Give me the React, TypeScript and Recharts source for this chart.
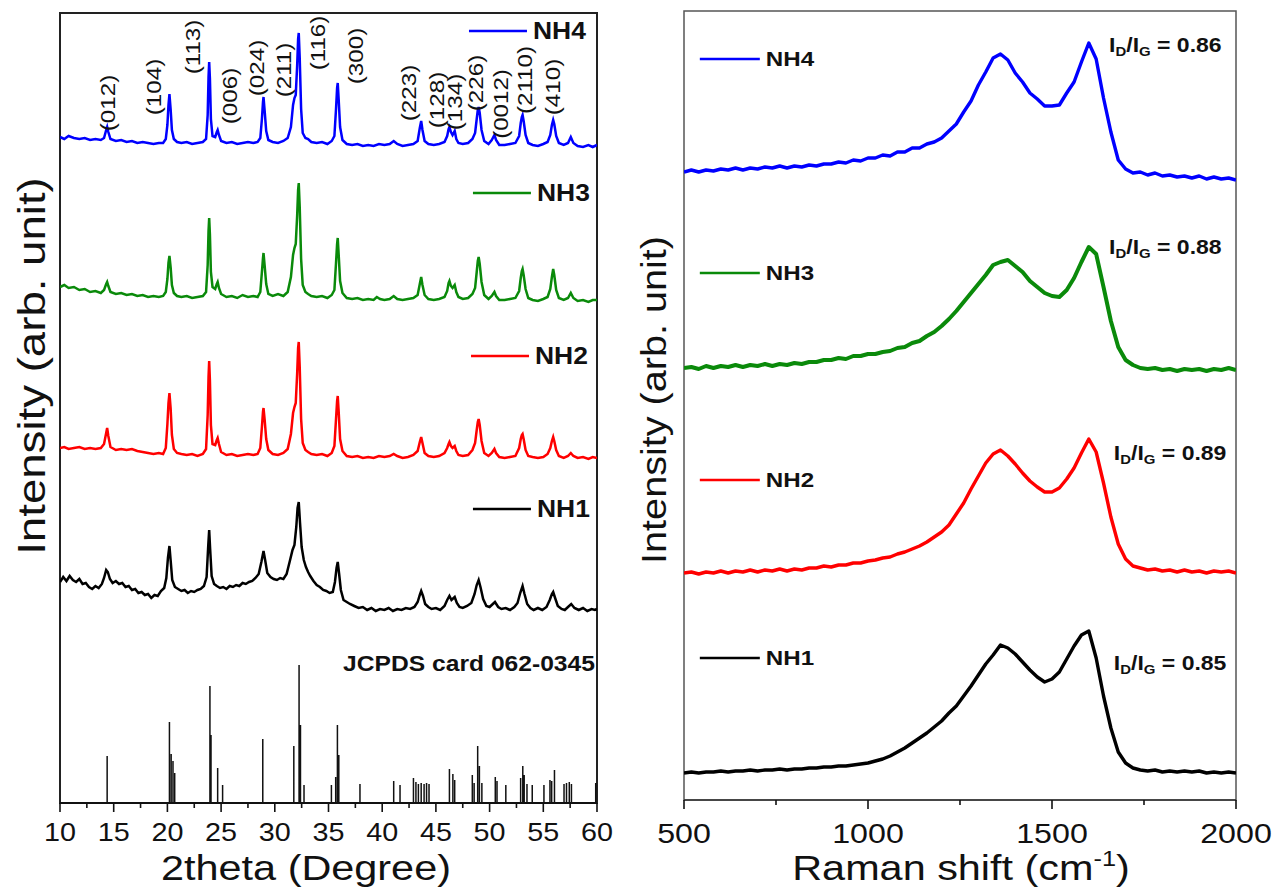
import React from 'react';
import { LineChart, Line, XAxis, YAxis, ReferenceArea, ReferenceDot } from 'recharts';

const FONT = '"Liberation Sans", Arial, Helvetica, sans-serif';

// ---------- XRD (left panel), intensity in stacked plot units ----------
const xrdTicks = [10, 12.5, 15, 17.5, 20, 22.5, 25, 27.5, 30, 32.5, 35, 37.5, 40, 42.5, 45, 47.5, 50, 52.5, 55, 57.5, 60];

const xrdNH4 = [
  [10, 666], [10.4, 664], [10.8, 667], [11.3, 665], [11.8, 664], [12.3, 665], [12.8, 663], [13.3, 664], [13.8, 663],
  [14.1, 665], [14.3, 673], [14.39, 676], [14.5, 671], [14.7, 664],
  [15.2, 662], [15.7, 663], [16.2, 661], [16.7, 662], [17.2, 660], [17.7, 661], [18.2, 660], [18.7, 659], [19.2, 660], [19.6, 660],
  [19.85, 664], [20.0, 678], [20.1, 698], [20.19, 709], [20.3, 694], [20.42, 673], [20.6, 664], [20.9, 661],
  [21.3, 660], [21.8, 661], [22.3, 659], [22.8, 660], [23.3, 661],
  [23.6, 664], [23.75, 688], [23.83, 726], [23.89, 741], [23.96, 724], [24.05, 684], [24.2, 667],
  [24.45, 666], [24.6, 671], [24.68, 673], [24.8, 668], [25.0, 662],
  [25.5, 660], [26.0, 661], [26.5, 659], [27.0, 660], [27.5, 661], [28.0, 660], [28.4, 661],
  [28.65, 665], [28.8, 684], [28.9, 701], [28.95, 706], [29.05, 693], [29.2, 672], [29.4, 663],
  [29.8, 661], [30.3, 660], [30.8, 662], [31.2, 665],
  [31.5, 676], [31.7, 698], [31.83, 705], [31.95, 708], [32.08, 737], [32.17, 764], [32.23, 770], [32.32, 745], [32.45, 694], [32.6, 670], [32.85, 665], [33.1, 664], [33.4, 661],
  [33.9, 660], [34.4, 661], [34.9, 659], [35.3, 662],
  [35.55, 667], [35.7, 694], [35.8, 715], [35.86, 720], [35.95, 703], [36.08, 676], [36.3, 663],
  [36.7, 659], [37.2, 658], [37.7, 659], [38.2, 657], [38.7, 658], [39.2, 657], [39.7, 659], [40.2, 658], [40.7, 659], [41.07, 662], [41.4, 659], [41.9, 657], [42.4, 658], [42.9, 659],
  [43.3, 662], [43.5, 675], [43.63, 682], [43.75, 673], [43.95, 662],
  [44.3, 659], [44.8, 658], [45.3, 659], [45.8, 661],
  [46.05, 667], [46.18, 674], [46.26, 676], [46.4, 671], [46.55, 668], [46.75, 672], [46.9, 664], [47.1, 660],
  [47.5, 659], [48.0, 660], [48.4, 664],
  [48.65, 670], [48.8, 684], [48.9, 693], [48.98, 696], [49.08, 690], [49.25, 673], [49.5, 662],
  [49.9, 659], [50.2, 663], [50.45, 668], [50.6, 663], [50.9, 658], [51.4, 658], [51.9, 659], [52.4, 660],
  [52.75, 667], [52.9, 680], [53.0, 686], [53.07, 688], [53.17, 682], [53.35, 668], [53.6, 660],
  [54.0, 658], [54.5, 657], [55.0, 659], [55.4, 661],
  [55.65, 668], [55.8, 678], [55.92, 683], [56.02, 679], [56.2, 667], [56.45, 660],
  [56.9, 658], [57.3, 660], [57.56, 666], [57.8, 660], [58.2, 657], [58.7, 656], [59.2, 658], [59.6, 656], [60, 658],
];

const xrdNH3 = [
  [10, 516], [10.4, 518], [10.8, 515], [11.3, 516], [11.8, 513], [12.3, 514], [12.8, 511], [13.3, 512], [13.8, 510],
  [14.1, 513], [14.3, 519], [14.39, 521], [14.5, 517], [14.7, 511],
  [15.2, 509], [15.7, 510], [16.2, 508], [16.7, 509], [17.2, 507], [17.7, 508], [18.2, 506], [18.7, 507], [19.2, 506], [19.6, 507],
  [19.85, 511], [20.0, 524], [20.1, 540], [20.19, 547], [20.3, 536], [20.42, 518], [20.6, 510], [20.9, 507],
  [21.3, 506], [21.8, 507], [22.3, 505], [22.8, 506], [23.3, 507],
  [23.6, 511], [23.75, 538], [23.83, 572], [23.89, 585], [23.96, 568], [24.05, 531], [24.2, 516],
  [24.45, 514], [24.6, 519], [24.68, 521], [24.8, 515], [25.0, 509],
  [25.5, 506], [26.0, 507], [26.5, 505], [27.0, 508], [27.5, 506], [28.0, 507], [28.4, 506],
  [28.65, 511], [28.8, 531], [28.9, 545], [28.95, 550], [29.05, 538], [29.2, 519], [29.4, 509],
  [29.8, 507], [30.3, 509], [30.8, 507], [31.2, 511],
  [31.5, 526], [31.7, 548], [31.83, 555], [31.95, 559], [32.08, 587], [32.17, 613], [32.23, 620], [32.32, 596], [32.45, 544], [32.6, 518], [32.85, 511], [33.1, 509], [33.4, 507],
  [33.9, 506], [34.4, 507], [34.9, 505], [35.3, 508],
  [35.55, 513], [35.7, 540], [35.8, 559], [35.86, 565], [35.95, 548], [36.08, 522], [36.3, 510],
  [36.7, 505], [37.2, 504], [37.7, 505], [38.2, 503], [38.7, 504], [39.2, 503], [39.5, 506], [39.8, 504], [40.2, 503], [40.7, 504], [41.07, 507], [41.4, 504], [41.9, 503], [42.4, 504], [42.9, 505],
  [43.3, 508], [43.5, 519], [43.63, 526], [43.75, 518], [43.95, 508],
  [44.3, 504], [44.8, 503], [45.3, 504], [45.8, 506],
  [46.05, 512], [46.18, 520], [46.26, 522], [46.4, 517], [46.55, 515], [46.75, 518], [46.9, 511], [47.1, 506],
  [47.5, 504], [48.0, 505], [48.4, 509],
  [48.65, 515], [48.8, 531], [48.9, 542], [48.98, 546], [49.08, 539], [49.25, 521], [49.5, 508],
  [49.9, 504], [50.2, 507], [50.45, 511], [50.6, 507], [50.9, 503], [51.4, 503], [51.9, 504], [52.4, 505],
  [52.75, 512], [52.9, 525], [53.0, 532], [53.07, 534], [53.17, 528], [53.35, 514], [53.6, 505],
  [54.0, 503], [54.5, 502], [55.0, 504], [55.4, 506],
  [55.65, 514], [55.8, 526], [55.92, 534], [56.02, 528], [56.2, 513], [56.45, 505],
  [56.9, 503], [57.3, 505], [57.56, 510], [57.8, 505], [58.2, 502], [58.7, 503], [59.2, 501], [59.6, 503], [60, 503],
];

const xrdNH2 = [
  [10, 355], [10.4, 356], [10.8, 354], [11.3, 355], [11.8, 356], [12.3, 354], [12.8, 355], [13.3, 354], [13.8, 355],
  [14.1, 359], [14.3, 370], [14.39, 375], [14.5, 367], [14.7, 356],
  [15.2, 353], [15.7, 354], [16.2, 353], [16.7, 354], [17.2, 352], [17.7, 351], [18.2, 350], [18.7, 349], [19.2, 350], [19.6, 349],
  [19.85, 355], [20.0, 379], [20.1, 400], [20.19, 410], [20.3, 395], [20.42, 368], [20.6, 354], [20.9, 350],
  [21.3, 349], [21.8, 348], [22.3, 349], [22.8, 347], [23.3, 349],
  [23.6, 354], [23.75, 388], [23.83, 426], [23.89, 442], [23.96, 422], [24.05, 378], [24.2, 359],
  [24.45, 358], [24.6, 363], [24.68, 365], [24.8, 359], [25.0, 351],
  [25.5, 348], [26.0, 349], [26.5, 347], [27.0, 348], [27.5, 349], [28.0, 348], [28.4, 349],
  [28.65, 355], [28.8, 376], [28.9, 391], [28.95, 395], [29.05, 384], [29.2, 364], [29.4, 353],
  [29.8, 349], [30.3, 348], [30.8, 350], [31.2, 354],
  [31.5, 369], [31.7, 390], [31.83, 396], [31.95, 400], [32.08, 429], [32.17, 455], [32.23, 461], [32.32, 436], [32.45, 384], [32.6, 360], [32.85, 353], [33.1, 351], [33.4, 349],
  [33.9, 348], [34.4, 349], [34.9, 347], [35.3, 350],
  [35.55, 357], [35.7, 384], [35.8, 402], [35.86, 407], [35.95, 391], [36.08, 364], [36.3, 352],
  [36.7, 347], [37.2, 346], [37.7, 347], [38.2, 345], [38.7, 346], [39.2, 345], [39.7, 347], [40.2, 346], [40.7, 347], [41.07, 349], [41.4, 347], [41.9, 345], [42.4, 346], [42.9, 348],
  [43.3, 352], [43.5, 361], [43.63, 366], [43.75, 360], [43.95, 350],
  [44.3, 347], [44.8, 346], [45.3, 347], [45.8, 350],
  [46.05, 355], [46.18, 359], [46.26, 361], [46.4, 357], [46.55, 355], [46.75, 357], [46.9, 352], [47.1, 348],
  [47.5, 347], [48.0, 348], [48.4, 353],
  [48.65, 360], [48.8, 373], [48.9, 381], [48.98, 384], [49.08, 378], [49.25, 362], [49.5, 350],
  [49.9, 347], [50.2, 350], [50.45, 354], [50.6, 350], [50.9, 346], [51.4, 345], [51.9, 346], [52.4, 347],
  [52.75, 355], [52.9, 364], [53.0, 368], [53.07, 369], [53.17, 364], [53.35, 353], [53.6, 347],
  [54.0, 346], [54.5, 345], [55.0, 346], [55.4, 349],
  [55.65, 355], [55.8, 362], [55.92, 366], [56.02, 362], [56.2, 353], [56.45, 347],
  [56.9, 345], [57.3, 347], [57.56, 350], [57.8, 347], [58.2, 345], [58.7, 346], [59.2, 344], [59.6, 346], [60, 345],
];

const xrdNH1 = [
  [10, 221], [10.3, 226], [10.6, 222], [10.9, 227], [11.2, 223], [11.5, 221], [11.8, 224], [12.1, 219], [12.4, 220], [12.7, 216], [13.0, 214], [13.3, 217], [13.6, 215], [13.9, 219],
  [14.1, 225], [14.3, 233], [14.45, 231], [14.65, 224], [14.9, 220], [15.2, 222], [15.5, 219], [15.8, 220], [16.1, 216], [16.4, 217], [16.7, 213], [17.0, 214], [17.3, 210], [17.6, 211],
  [17.9, 208], [18.2, 209], [18.5, 205], [18.8, 208], [19.1, 207], [19.4, 212], [19.7, 215], [19.9, 225], [20.05, 245], [20.19, 257], [20.3, 243], [20.45, 223], [20.7, 216],
  [21.0, 214], [21.3, 212], [21.6, 213], [21.9, 210], [22.2, 212], [22.5, 211], [22.8, 213], [23.1, 214], [23.4, 217], [23.65, 226], [23.8, 257], [23.89, 273], [23.98, 254],
  [24.12, 227], [24.35, 219], [24.6, 217], [24.9, 215], [25.2, 216], [25.5, 214], [25.8, 217], [26.1, 216], [26.4, 218], [26.7, 217], [27.0, 220], [27.3, 219], [27.6, 221],
  [27.9, 222], [28.2, 225], [28.5, 229], [28.75, 241], [28.95, 252], [29.1, 243], [29.3, 230], [29.6, 226], [29.9, 224], [30.2, 223], [30.5, 225], [30.8, 224], [31.1, 229],
  [31.4, 242], [31.65, 253], [31.83, 258], [32.0, 276], [32.12, 295], [32.23, 301], [32.35, 280], [32.5, 256], [32.7, 243], [32.9, 236], [33.1, 231], [33.3, 227], [33.6, 222],
  [33.9, 218], [34.2, 216], [34.5, 213], [34.8, 212], [35.1, 210], [35.4, 211], [35.6, 221], [35.75, 235], [35.86, 241], [35.98, 230], [36.15, 213], [36.4, 203], [36.7, 201],
  [37.0, 199], [37.4, 197], [37.8, 195], [38.2, 196], [38.6, 193], [39.0, 195], [39.4, 192], [39.8, 194], [40.2, 193], [40.6, 195], [41.0, 192], [41.4, 194], [41.8, 193],
  [42.2, 195], [42.6, 194], [43.0, 196], [43.3, 201], [43.5, 208], [43.63, 212], [43.8, 207], [44.0, 199], [44.3, 196], [44.6, 194], [45.0, 195], [45.4, 193], [45.8, 197],
  [46.05, 203], [46.26, 207], [46.45, 203], [46.75, 206], [46.95, 200], [47.2, 196], [47.5, 195], [47.9, 197], [48.3, 200], [48.6, 209], [48.8, 218], [48.98, 223], [49.15, 216],
  [49.4, 204], [49.7, 197], [50.0, 196], [50.3, 199], [50.5, 201], [50.8, 196], [51.1, 194], [51.5, 195], [51.9, 193], [52.3, 196], [52.6, 200], [52.85, 210], [53.07, 217],
  [53.25, 209], [53.5, 199], [53.8, 195], [54.1, 193], [54.5, 195], [54.9, 193], [55.3, 196], [55.6, 203], [55.8, 209], [55.92, 211], [56.1, 205], [56.35, 197], [56.7, 194],
  [57.0, 193], [57.3, 196], [57.6, 199], [57.9, 195], [58.3, 193], [58.7, 195], [59.1, 192], [59.5, 194], [59.8, 193], [60, 194],
];

// JCPDS card 062-0345 reference lines
const jcpdsPos = [14.39, 20.19, 20.35, 20.52, 20.68, 23.96, 24.06, 24.68, 25.14, 28.88, 31.77, 32.26, 32.39, 32.72, 35.27, 35.67, 35.83, 35.96, 37.93,
  41.07, 41.66, 42.91, 43.14, 43.37, 43.63, 43.9, 44.13, 44.36, 46.26, 46.58, 46.75, 48.39, 48.56, 48.89, 49.05, 49.28, 50.53, 50.69, 51.51,
  52.89, 53.09, 53.22, 53.48, 53.97, 55.06, 55.62, 55.78, 56.04, 56.93, 57.16, 57.42, 57.62, 59.88];
const jcpdsHeight = [47, 81, 49, 42, 30, 117, 68, 35, 18, 64, 57, 138, 78, 18, 18, 26, 78, 48, 19,
  22, 18, 25, 21, 19, 20, 19, 20, 19, 34, 29, 23, 28, 20, 57, 37, 20, 26, 22, 18,
  25, 37, 28, 19, 18, 18, 23, 22, 33, 19, 20, 21, 19, 20];

// Miller indices written over the NH4 pattern
const peakNames = ['(012)', '(104)', '(113)', '(006)', '(024)', '(211)', '(116)', '(300)', '(223)', '(128)', '(134)', '(226)', '(0012)', '(2110)', '(410)'];
const peakLabelX = [14.47, 18.75, 22.38, 25.83, 28.34, 30.86, 34.02, 37.56, 42.5, 45.1, 46.78, 48.73, 51.06, 53.3, 55.9];
const peakLabelY = [700, 716, 756, 707, 735, 733, 760, 747, 710, 703, 701, 720, 699, 723, 716];

// ---------- Raman (right panel) ----------
const ramanTicks = [500, 750, 1000, 1250, 1500, 1750, 2000];

const ramanShift = [500, 520, 540, 560, 580, 600, 620, 640, 660, 680, 700, 720, 740, 760, 780, 800, 820, 840, 860, 880,
  900, 920, 940, 960, 980, 1000, 1020, 1040, 1060, 1080, 1100, 1120, 1140, 1160, 1180, 1200, 1220, 1240, 1260, 1280,
  1300, 1320, 1340, 1360, 1380, 1400, 1420, 1440, 1460, 1480, 1500, 1520, 1540, 1560, 1580, 1600, 1620, 1640, 1660, 1680,
  1700, 1720, 1740, 1760, 1780, 1800, 1820, 1840, 1860, 1880, 1900, 1920, 1940, 1960, 1980, 2000];

const ramanNH4 = [628, 630, 628, 630, 629, 631, 630, 632, 630, 632, 631, 633, 632, 634, 632, 634, 633, 635, 634, 636,
  636, 638, 637, 640, 639, 642, 642, 645, 644, 648, 648, 652, 652, 656, 658, 662, 669, 676, 688, 699,
  715, 728, 742, 746, 740, 727, 718, 707, 701, 694, 694, 695, 707, 718, 738, 757, 741, 702, 668, 640,
  631, 627, 628, 625, 627, 624, 625, 623, 624, 622, 624, 621, 623, 621, 622, 620];

const ramanNH3 = [432, 433, 431, 434, 432, 434, 433, 435, 433, 435, 434, 436, 434, 436, 435, 437, 436, 438, 438, 440,
  440, 442, 441, 444, 444, 446, 446, 448, 449, 452, 453, 457, 459, 464, 468, 474, 481, 489, 498, 507,
  516, 525, 535, 538, 540, 534, 528, 519, 513, 507, 504, 503, 510, 522, 538, 553, 546, 513, 479, 453,
  440, 435, 432, 431, 432, 430, 431, 429, 431, 430, 431, 429, 431, 430, 432, 430];

const ramanNH2 = [227, 228, 226, 228, 227, 229, 227, 229, 228, 230, 228, 230, 229, 231, 229, 231, 230, 232, 232, 234,
  233, 235, 235, 237, 237, 239, 240, 242, 243, 246, 248, 251, 254, 258, 263, 268, 275, 286, 297, 311,
  324, 337, 346, 350, 344, 336, 327, 319, 313, 308, 308, 312, 321, 332, 347, 361, 348, 317, 283, 256,
  241, 234, 232, 230, 231, 229, 230, 228, 230, 228, 229, 227, 229, 228, 229, 227];

const ramanNH1 = [27, 28, 27, 28, 28, 29, 28, 29, 29, 30, 29, 30, 30, 31, 30, 31, 31, 32, 32, 33,
  33, 34, 34, 35, 36, 37, 39, 41, 44, 48, 52, 57, 62, 67, 73, 79, 87, 94, 104, 114,
  125, 136, 145, 155, 152, 146, 138, 130, 123, 118, 121, 128, 141, 154, 165, 169, 142, 104, 72, 48,
  37, 32, 30, 29, 30, 28, 29, 28, 29, 28, 29, 27, 28, 27, 28, 27];

const ratioValues = ['0.86', '0.88', '0.89', '0.85'];
const ratioX = [1655, 1655, 1668, 1668];
const ratioY = [755, 553, 347, 137];

const seriesNames = ['NH4', 'NH3', 'NH2', 'NH1'];
const seriesColors = ['#0000ff', '#0a8a0a', '#ff0000', '#000000'];
const xrdLegendX = [48.08, 48.45, 48.27, 48.45];
const xrdLegendY = [772, 610, 447, 294];
const ramanLegendX = [543, 543, 543, 543];
const ramanLegendY = [741, 527, 320, 142];

const toPoints = (pairs: number[][]) => pairs.map(([x, y]) => ({ x, y }));
const ramanPoints = (ys: number[]) => ramanShift.map((x, i) => ({ x, y: ys[i] }));

const xrdData = [xrdNH4, xrdNH3, xrdNH2, xrdNH1].map(toPoints);
const ramanData = [ramanNH4, ramanNH3, ramanNH2, ramanNH1].map(ramanPoints);
const stickData = jcpdsPos.flatMap((p, i) => [{ x: p, y: 0 }, { x: p, y: jcpdsHeight[i] }, { x: p, y: 0 }]);

// custom tick: long tick + label for major values, short tick for minor
const makeTick = (majorStep: number, fontSize: number, labelDy: number) => (props: any) => {
  const { x, y, payload } = props;
  const major = payload.value % majorStep === 0;
  return (
    <g>
      <line x1={x} x2={x} y1={y} y2={y + (major ? 9 : 5)} stroke="#111" strokeWidth={1.6} />
      {major && (
        <text transform={`translate(${x},${y + labelDy}) scale(1.15,1)`} textAnchor="middle"
          fontFamily={FONT} fontSize={fontSize} fill="#111">{payload.value}</text>
      )}
    </g>
  );
};

const legendShape = (color: string, label: string, len: number, fontSize: number) => (p: any) => (
  <g>
    <line x1={p.cx} x2={p.cx + len} y1={p.cy} y2={p.cy} stroke={color} strokeWidth={2.5} />
    <text transform={`translate(${p.cx + len + 6},${p.cy}) scale(1.15,1)`} dominantBaseline="central"
      fontFamily={FONT} fontSize={fontSize} fontWeight="bold" fill="#111">{label}</text>
  </g>
);

const peakShape = (label: string) => (p: any) => (
  <text transform={`translate(${p.cx},${p.cy}) rotate(-90) scale(1.15,1)`} textAnchor="middle" dominantBaseline="central"
    fontFamily={FONT} fontSize={21} fill="#111">{label}</text>
);

const ratioShape = (value: string) => (p: any) => (
  <text transform={`translate(${p.cx},${p.cy}) scale(1.15,1)`} dominantBaseline="central"
    fontFamily={FONT} fontSize={20} fontWeight="bold" fill="#111" style={{ whiteSpace: 'pre' }}>
    <tspan>I</tspan>
    <tspan fontSize={13} dy={6}>D</tspan>
    <tspan fontSize={20} dy={-6}>/I</tspan>
    <tspan fontSize={13} dy={6}>G</tspan>
    <tspan fontSize={20} dy={-6}>{' = ' + value}</tspan>
  </text>
);

function XrdPanel() {
  return (
    <LineChart width={620} height={892} margin={{ top: 13, right: 23, bottom: 0, left: 60 }}>
      <XAxis type="number" dataKey="x" domain={[10, 60]} ticks={xrdTicks} interval={0} allowDataOverflow
        height={89} tickSize={0} tickMargin={0} tickLine={false}
        axisLine={{ stroke: '#111', strokeWidth: 2 }} tick={makeTick(5, 25, 38)} />
      <YAxis type="number" domain={[0, 790]} hide allowDataOverflow />
      <ReferenceArea x1={10} x2={60} y1={0} y2={790} fill="none" stroke="#222" strokeWidth={2} ifOverflow="visible" />
      <Line data={stickData} dataKey="y" stroke="#111" strokeWidth={1.5} dot={false} isAnimationActive={false} />
      {xrdData.map((d, i) => (
        <Line key={seriesNames[i]} data={d} dataKey="y" stroke={seriesColors[i]} strokeWidth={2.5}
          dot={false} isAnimationActive={false} />
      ))}
      {peakNames.map((n, i) => (
        <ReferenceDot key={n} x={peakLabelX[i]} y={peakLabelY[i]} r={0} shape={peakShape(n)} />
      ))}
      {seriesNames.map((n, i) => (
        <ReferenceDot key={'lg' + n} x={xrdLegendX[i]} y={xrdLegendY[i]} r={0}
          shape={legendShape(seriesColors[i], n, 58, 23)} />
      ))}
      <ReferenceDot x={59.81} y={140} r={0} shape={(p: any) => (
        <text transform={`translate(${p.cx},${p.cy}) scale(1.12,1)`} textAnchor="end" dominantBaseline="central"
          fontFamily={FONT} fontSize={22} fontWeight="bold" fill="#111">JCPDS card 062-0345</text>
      )} />
    </LineChart>
  );
}

function RamanPanel() {
  return (
    <LineChart width={660} height={892} margin={{ top: 11, right: 44, bottom: 0, left: 64 }}>
      <XAxis type="number" dataKey="x" domain={[500, 2000]} ticks={ramanTicks} interval={0} allowDataOverflow
        height={92} tickSize={0} tickMargin={0} tickLine={false}
        axisLine={{ stroke: '#333', strokeWidth: 1.5 }} tick={makeTick(500, 28, 43)} />
      <YAxis type="number" domain={[0, 789]} hide allowDataOverflow />
      <ReferenceArea x1={500} x2={2000} y1={0} y2={789} fill="none" stroke="#555" strokeWidth={1.5} ifOverflow="visible" />
      {ramanData.map((d, i) => (
        <Line key={seriesNames[i]} data={d} dataKey="y" stroke={seriesColors[i]} strokeWidth={i === 1 ? 4 : 3.4}
          strokeLinejoin="round" dot={false} isAnimationActive={false} />
      ))}
      {seriesNames.map((n, i) => (
        <ReferenceDot key={'lg' + n} x={ramanLegendX[i]} y={ramanLegendY[i]} r={0}
          shape={legendShape(seriesColors[i], n, 60, 21)} />
      ))}
      {ratioValues.map((v, i) => (
        <ReferenceDot key={'r' + i} x={ratioX[i]} y={ratioY[i]} r={0} shape={ratioShape(v)} />
      ))}
    </LineChart>
  );
}

export default function App() {
  const title = { fontFamily: FONT, fill: '#111' };
  return (
    <div style={{ position: 'absolute', left: 0, top: 0, width: 1280, height: 892, background: '#fff' }}>
      <div style={{ position: 'absolute', left: 0, top: 0 }}>
        <XrdPanel />
      </div>
      <div style={{ position: 'absolute', left: 620, top: 0 }}>
        <RamanPanel />
      </div>
      <svg width={1280} height={892} style={{ position: 'absolute', left: 0, top: 0, pointerEvents: 'none' }}>
        <text transform="translate(45,366) rotate(-90) scale(1.2,1)" textAnchor="middle" fontSize={38} {...title}>
          Intensity (arb. unit)
        </text>
        <text transform="translate(666,400) rotate(-90) scale(1.1,1)" textAnchor="middle" fontSize={36} {...title}>
          Intensity (arb. unit)
        </text>
        <text transform="translate(306,880) scale(1.15,1)" textAnchor="middle" fontSize={36} {...title}>
          2theta (Degree)
        </text>
        <text transform="translate(961,880) scale(1.15,1)" textAnchor="middle" fontSize={36} {...title}>
          <tspan>Raman shift (cm</tspan>
          <tspan fontSize={22} dy={-14}>-1</tspan>
          <tspan dy={14}>)</tspan>
        </text>
      </svg>
    </div>
  );
}
